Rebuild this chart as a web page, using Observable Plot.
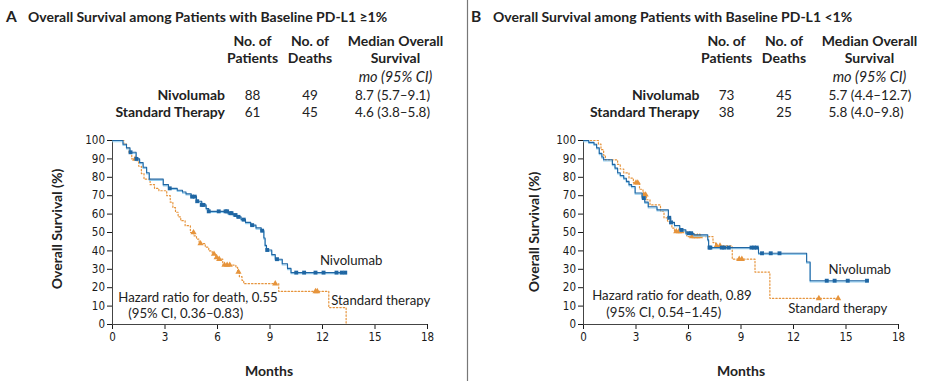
<!DOCTYPE html>
<html><head><meta charset="utf-8">
<script src="https://cdn.jsdelivr.net/npm/d3@7"></script>
<script src="https://cdn.jsdelivr.net/npm/@observablehq/plot@0.6"></script>
<style>
body{margin:0;background:#fff;}
#wrap{position:relative;width:931px;height:381px;overflow:hidden;background:#fff;}
.panel{position:absolute;top:125px;}
#overlay{position:absolute;left:0;top:0;}
</style></head><body><div id="wrap"></div>
<script>
// ---------- DATA ----------
const monthTicks = [0, 3, 6, 9, 12, 15, 18];
const survivalTicks = [0, 10, 20, 30, 40, 50, 60, 70, 80, 90, 100];

// Panel A: PD-L1 >=1%
const aNivoT = [0,0.6,0.8,1.0,1.35,1.55,1.75,1.95,2.1,2.9,3.2,3.7,4.0,4.2,4.5,4.8,5.1,5.35,5.5,6.6,6.9,7.1,7.35,7.6,7.9,8.2,8.5,8.65,8.72,8.8,9.1,9.3,9.7,10.0,10.2,13.35];
const aNivoS = [100,98,96,93.6,90,88,85.5,82.5,79,76,74,73,72,71,69.5,67,65,63,61.5,60.5,59.5,58.5,57,55.5,54,52.5,51,47,43,40.5,38,35.5,33,30.5,28.2,28.2];
const aNivoCensor = [1.03,1.37,3.27,4.55,4.7,4.84,5.1,5.2,5.5,6.07,6.46,6.55,6.74,6.8,7.03,7.2,7.5,7.98,8.55,8.84,9.4,10.5,10.95,11.6,12.06,12.8,13.1,13.3];
const aStdT = [0,0.65,0.8,0.95,1.1,1.4,1.5,1.65,1.8,2.15,2.4,2.65,3.1,3.3,3.45,3.6,3.75,3.9,4.15,4.45,4.65,4.8,4.95,5.3,5.5,5.7,5.9,6.1,6.3,7.05,7.15,7.25,7.4,7.5,9.5,12.36,13.35];
const aStdS = [100,98,96,93,90,89,86,82,79,76,74,72.7,70,66.5,63.5,61,58.5,56.4,53.7,50,48.2,46.4,44,42,40,38.3,36.5,35.5,32.3,31,28.5,26,24,22.2,18,9.2,0];
const aStdCensor = [1.3,4.63,5.03,5.8,5.95,6.1,6.4,6.55,6.7,7.2,9.3,11.6,11.7];

// Panel B: PD-L1 <1%
const bNivoT = [0,0.3,0.6,0.75,0.9,1.05,1.15,1.65,1.8,1.95,2.1,2.3,2.45,2.6,2.75,2.95,3.35,3.5,3.7,4.2,4.85,4.98,5.2,5.5,5.85,6.3,7.1,7.15,10.0,12.75,12.95,16.2];
const bNivoS = [100,99,98,96,93,91,89.5,87,85,82.5,81,79.5,77.8,76,75,71.5,68.7,66.5,64,62.3,58,55.5,53.8,51.4,49.6,48.7,46,41.8,38.7,34,23.8,23.8];
const bNivoCensor = [3.45,4.9,5.0,5.6,6.0,6.15,7.2,7.25,7.9,8.05,8.3,9.6,9.75,9.9,10.2,10.7,11.2,13.9,14.35,15.1,16.2];
const bStdT = [0,0.85,1.0,1.15,1.25,1.95,2.1,2.3,2.6,2.85,3.2,3.4,3.6,3.8,4.4,4.6,4.8,5.05,5.2,5.9,7.4,7.55,8.5,9.8,10.65,14.55];
const bStdS = [100,98,95,92,89.5,87,84.5,82.4,79.6,77,73.5,70.5,67.8,65,61.4,58,56,52.4,50.5,47.8,44.5,42.7,35.5,28.5,14.2,14.2];
const bStdCensor = [3.0,3.1,3.45,3.55,5.3,5.45,5.6,6.2,6.35,6.5,6.65,7.6,7.8,8.9,9.05,13.45,14.55];

// Table text
const tableHeads = [["No. of", "Patients"], ["No. of", "Deaths"], ["Median Overall", "Survival"]];
const groups = ["Nivolumab", "Standard Therapy"];
const aPatients = ["88", "61"], aDeaths = ["49", "45"], aMedian = ["8.7 (5.7–9.1)", "4.6 (3.8–5.8)"];
const bPatients = ["73", "38"], bDeaths = ["45", "25"], bMedian = ["5.7 (4.4–12.7)", "5.8 (4.0–9.8)"];
const aTitle = "Overall Survival among Patients with Baseline PD-L1 ≥1%";
const bTitle = "Overall Survival among Patients with Baseline PD-L1 <1%";
const aHR = ["Hazard ratio for death, 0.55", "(95% CI, 0.36–0.83)"];
const bHR = ["Hazard ratio for death, 0.89", "(95% CI, 0.54–1.45)"];

// ---------- STYLE ----------
const BLUE = "#1f66a3", LIGHT = "#93cdef", ORANGE = "#e6943c";
const FONT = "Lato, 'Open Sans', sans-serif";
const TICKFONT = "'DejaVu Sans Condensed', 'Liberation Sans Narrow', sans-serif";

function curve(T, S) { return T.map((t, i) => ({t, s: S[i]})); }
function censor(T, S, C) {
  return C.map(c => { let i = d3.bisectRight(T, c) - 1; return {t: c, s: S[Math.max(0, i)]}; });
}

function panel(cfg) {
  const nivo = curve(cfg.nT, cfg.nS), std = curve(cfg.sT, cfg.sS);
  const lab = (d) => Plot.text([d], {x: "x", y: "y", text: "label", textAnchor: "start", fontFamily: FONT, fontSize: 13.2, fill: "#222"});
  return Plot.plot({
    width: 465, height: 256,
    marginLeft: cfg.ml, marginRight: cfg.mr, marginTop: 15, marginBottom: 57,
    style: {fontFamily: TICKFONT, fontSize: "12px", color: "#1a1a1a", background: "transparent"},
    x: {domain: [0, 18]},
    y: {domain: [0, 100]},
    marks: [
      Plot.axisY({ticks: survivalTicks, tickSize: 5, tickPadding: 2.5, label: null, fontSize: 11.5, fontFamily: TICKFONT}),
      Plot.axisX({ticks: monthTicks, tickSize: 5, tickPadding: 3, label: null, fontSize: 11.5, fontFamily: TICKFONT}),
      Plot.ruleX([0], {stroke: "#444", strokeWidth: 1}),
      Plot.ruleY([0], {stroke: "#444", strokeWidth: 1}),
      Plot.line(std, {x: "t", y: "s", curve: "step-after", stroke: ORANGE, strokeWidth: 1.2, strokeDasharray: "1.4,2"}),
      Plot.dot(censor(cfg.sT, cfg.sS, cfg.sC), {x: "t", y: "s", symbol: "triangle", r: 2.3, fill: ORANGE, stroke: "none"}),
      Plot.line(nivo, {x: "t", y: "s", curve: "step-after", stroke: LIGHT, strokeWidth: 1.1, dy: 1.2}),
      Plot.line(nivo, {x: "t", y: "s", curve: "step-after", stroke: BLUE, strokeWidth: 1.1}),
      Plot.dot(censor(cfg.nT, cfg.nS, cfg.nC), {x: "t", y: "s", symbol: "square", r: 2.2, fill: BLUE, stroke: "none"}),
      lab(cfg.nivLab), lab(cfg.stdLab), lab(cfg.hr1), lab(cfg.hr2)
    ]
  });
}

const wrap = document.getElementById("wrap");

const pA = panel({nT: aNivoT, nS: aNivoS, nC: aNivoCensor, sT: aStdT, sS: aStdS, sC: aStdCensor, ml: 112, mr: 38,
  nivLab: {x: 11.85, y: 34.5, label: "Nivolumab"}, stdLab: {x: 12.5, y: 12.8, label: "Standard therapy"},
  hr1: {x: 0.33, y: 14.6, label: aHR[0]}, hr2: {x: 0.9, y: 5.6, label: aHR[1]}});
pA.classList.add("panel"); pA.style.left = "0px"; wrap.appendChild(pA);

const pB = panel({nT: bNivoT, nS: bNivoS, nC: bNivoCensor, sT: bStdT, sS: bStdS, sC: bStdCensor, ml: 117, mr: 33,
  nivLab: {x: 14.0, y: 30, label: "Nivolumab"}, stdLab: {x: 11.7, y: 8.3, label: "Standard therapy"},
  hr1: {x: 0.5, y: 15.4, label: bHR[0]}, hr2: {x: 1.3, y: 6.3, label: bHR[1]}});
pB.classList.add("panel"); pB.style.left = "466px"; wrap.appendChild(pB);

// ---------- HEADER OVERLAY ----------
const svg = d3.select(wrap).append("svg").attr("id", "overlay").attr("width", 931).attr("height", 381)
  .style("pointer-events", "none").attr("font-family", FONT).attr("fill", "#222");
svg.append("line").attr("x1", 467.5).attr("x2", 467.5).attr("y1", 0).attr("y2", 381).attr("stroke", "#777").attr("stroke-width", 1.2);

function txt(x, y, s, o = {}) {
  svg.append("text").attr("x", x).attr("y", y).text(s)
    .attr("font-size", o.size || 13.5).attr("font-weight", o.bold ? 700 : 400)
    .attr("font-style", o.italic ? "italic" : null).attr("text-anchor", o.anchor || "start");
}

function header(ox, letter, title, cols, rowRight, valStart, pats, deaths, meds) {
  txt(ox + 6, 22, letter, {size: 15.5, bold: true});
  txt(ox + 28, 22, title, {size: 14, bold: true});
  tableHeads.forEach((h, i) => {
    txt(cols[i], 46, h[0], {bold: true, anchor: "middle", size: 14});
    txt(cols[i], 62.5, h[1], {bold: true, anchor: "middle", size: 14});
  });
  txt(cols[2], 81.5, "mo (95% CI)", {italic: true, anchor: "middle", size: 14.5});
  groups.forEach((g, i) => {
    const y = 100 + i * 16.7;
    txt(rowRight, y, g, {bold: true, anchor: "end", size: 14});
    txt(cols[0], y, pats[i], {anchor: "middle"});
    txt(cols[1], y, deaths[i], {anchor: "middle"});
    txt(valStart, y, meds[i]);
  });
}
header(0, "A", aTitle, [252.5, 310, 395.5], 225, 355, aPatients, aDeaths, aMedian);
header(465, "B", bTitle, [726.5, 784, 869.5], 699.5, 828.5, bPatients, bDeaths, bMedian);

// axis titles
function ytitle(x, y) {
  svg.append("text").attr("transform", `translate(${x},${y}) rotate(-90)`).attr("text-anchor", "middle")
    .attr("font-size", 14).attr("font-weight", 700).text("Overall Survival (%)");
}
ytitle(62, 229); ytitle(539, 232);
txt(269, 376, "Months", {bold: true, anchor: "middle", size: 14});
txt(741, 376, "Months", {bold: true, anchor: "middle", size: 14});
</script></body></html>
